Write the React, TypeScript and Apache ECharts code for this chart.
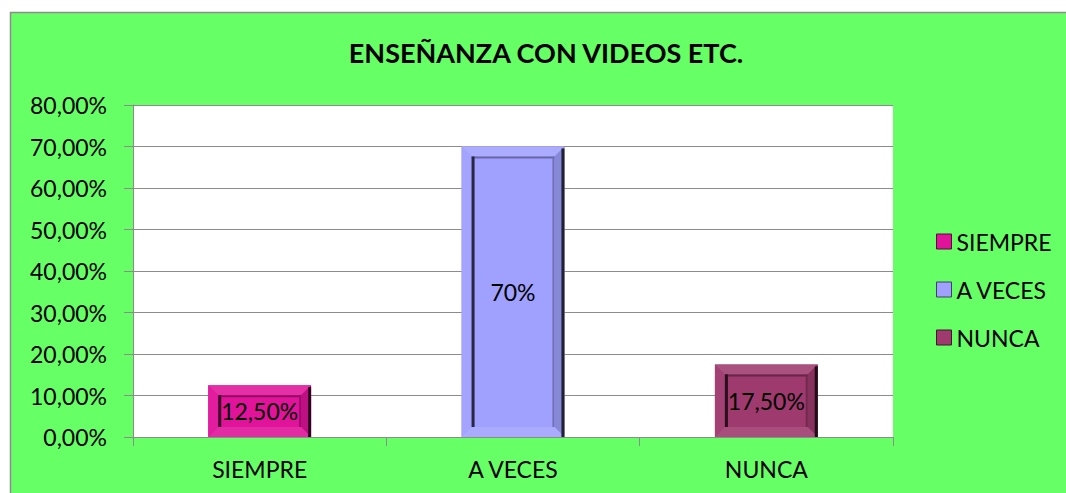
import React, { useEffect, useRef } from "react";
import * as echarts from "echarts";

const titleText = "ENSEÑANZA CON VIDEOS ETC.";
const categories = ["SIEMPRE", "A VECES", "NUNCA"];
const values = [12.5, 70, 17.5];
const barLabels = ["12,50%", "70%", "17,50%"];
const colors = ["#E0139A", "#A0A0FF", "#9E3A6E"];
const yTicks = { min: 0, max: 80, interval: 10 };

const FONT = "Lato, 'Open Sans', sans-serif";
const FS = 23;

function shade(hex: string, f: number): string {
  const n = parseInt(hex.slice(1), 16);
  let r = (n >> 16) & 255, g = (n >> 8) & 255, b = n & 255;
  if (f >= 0) {
    r = r + (255 - r) * f; g = g + (255 - g) * f; b = b + (255 - b) * f;
  } else {
    r = r * (1 + f); g = g * (1 + f); b = b * (1 + f);
  }
  const h = (x: number) => Math.round(x).toString(16).padStart(2, "0");
  return "#" + h(r) + h(g) + h(b);
}

export default function App() {
  const ref = useRef<HTMLDivElement>(null);
  useEffect(() => {
    if (!ref.current) return;
    const chart = echarts.init(ref.current, null, { renderer: "svg" });
    const series = categories.map((name, i) => ({
      type: "custom",
      name,
      itemStyle: { color: colors[i] },
      encode: { x: 0, y: 1 },
      data: [[i, values[i]]],
      renderItem: (params: any, api: any) => {
        const idx = api.value(0);
        const v = api.value(1);
        const top = api.coord([idx, v]);
        const base = api.coord([idx, 0]);
        const band = api.size([1, 0])[0];
        const w = band * 0.406;
        const x0 = top[0] - w / 2, x1 = top[0] + w / 2;
        const y0 = top[1], y1 = base[1];
        const b = 10;
        const c = colors[idx];
        const ix0 = x0 + b, ix1 = x1 - b, iy0 = y0 + b, iy1 = y1 - b;
        return {
          type: "group",
          children: [
            { type: "rect", shape: { x: x0, y: y0, width: w, height: y1 - y0 }, style: { fill: c } },
            { type: "polygon", shape: { points: [[x0, y0], [x1, y0], [ix1, iy0], [ix0, iy0]] }, style: { fill: shade(c, 0.12) } },
            { type: "polygon", shape: { points: [[x0, y0], [ix0, iy0], [ix0, iy1], [x0, y1]] }, style: { fill: shade(c, 0.04) } },
            { type: "polygon", shape: { points: [[x1, y0], [x1, y1], [ix1, iy1], [ix1, iy0]] }, style: { fill: shade(c, -0.15) } },
            { type: "polygon", shape: { points: [[x0, y1], [ix0, iy1], [ix1, iy1], [x1, y1]] }, style: { fill: shade(c, 0.1) } },
            { type: "rect", shape: { x: ix0, y: iy0, width: ix1 - ix0, height: iy1 - iy0 }, style: { fill: c } },
            { type: "line", shape: { x1: ix0, y1: iy0 + 1, x2: ix1, y2: iy0 + 1 }, style: { stroke: shade(c, -0.35), lineWidth: 2 } },
            { type: "line", shape: { x1: ix1 - 1, y1: iy0, x2: ix1 - 1, y2: iy1 }, style: { stroke: shade(c, -0.3), lineWidth: 2 } },
            { type: "line", shape: { x1: ix0 + 1.5, y1: iy0, x2: ix0 + 1.5, y2: iy1 }, style: { stroke: shade(c, -0.75), lineWidth: 3 } },
            { type: "line", shape: { x1: x1 - 1.5, y1: y0 + 2, x2: x1 - 1.5, y2: y1 }, style: { stroke: shade(c, -0.8), lineWidth: 3 } },
            {
              type: "text",
              x: top[0],
              y: (y0 + y1) / 2,
              style: {
                text: barLabels[idx],
                font: FS + "px " + FONT,
                fill: "#000",
                align: "center",
                verticalAlign: "middle",
              },
            },
          ],
        };
      },
    }));
    chart.setOption({
      animation: false,
      backgroundColor: "#ffffff",
      graphic: [
        {
          type: "rect",
          z: -10,
          silent: true,
          shape: { x: 10.5, y: 12.5, width: 1070, height: 500 },
          style: { fill: "#66FF66", stroke: "#8C8C8C", lineWidth: 1.5 },
        },
        {
          type: "rect",
          z: -9,
          silent: true,
          shape: { x: 133, y: 105, width: 760, height: 332 },
          style: { fill: "#ffffff" },
        },
      ],
      title: {
        text: titleText,
        left: 546,
        top: 39,
        padding: 0,
        textAlign: "center",
        textStyle: { fontFamily: FONT, fontSize: 27, fontWeight: "bold", color: "#000" },
      },
      legend: {
        orient: "vertical",
        left: 936,
        top: 230,
        padding: 0,
        itemWidth: 15,
        itemHeight: 15,
        itemGap: 25,
        icon: "rect",
        textStyle: { fontFamily: FONT, fontSize: FS, color: "#000", lineHeight: 23 },
        data: categories.map((n, i) => ({ name: n, itemStyle: { color: colors[i], borderColor: shade(colors[i], -0.6), borderWidth: 1 } })),
      },
      grid: { left: 133, right: 173, top: 105, bottom: 56, containLabel: false },
      xAxis: {
        type: "category",
        data: categories,
        axisLine: { lineStyle: { color: "#8C8C8C", width: 1 } },
        axisTick: { show: true, length: 9, alignWithLabel: false, lineStyle: { color: "#8C8C8C" } },
        axisLabel: { fontFamily: FONT, fontSize: FS, color: "#000", margin: 20 },
        splitLine: { show: false },
      },
      yAxis: {
        type: "value",
        min: yTicks.min,
        max: yTicks.max,
        interval: yTicks.interval,
        axisLine: { show: true, lineStyle: { color: "#8C8C8C", width: 1 } },
        axisTick: { show: true, length: 9, lineStyle: { color: "#8C8C8C" } },
        axisLabel: {
          fontFamily: FONT,
          fontSize: FS,
          color: "#000",
          margin: 26,
          formatter: (v: number) => v.toFixed(2).replace(".", ",") + "%",
        },
        splitLine: { show: true, lineStyle: { color: "#8C8C8C", width: 1 } },
      },
      series,
    });
    return () => chart.dispose();
  }, []);
  return <div ref={ref} style={{ position: "fixed", left: 0, top: 0, width: 1066, height: 493 }} />;
}
